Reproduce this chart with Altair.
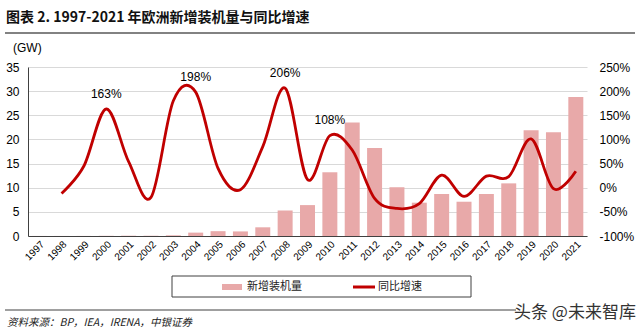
import altair as alt
import pandas as pd

years = [str(y) for y in range(1997, 2022)]
new_gw = [0.01, 0.01, 0.015, 0.04, 0.06, 0.05, 0.14, 0.7, 1.0, 0.95, 1.8, 5.3, 6.4,
          13.2, 23.5, 18.2, 10.1, 6.9, 8.7, 7.1, 8.7, 10.9, 21.9, 21.5, 28.8]
yoy_pct = [None, -12, 45, 163, 54, -20, 180, 198, 40, -4, 85, 206, 17,
           108, 78, -22, -43, -33, 26, -18, 24, 23, 101, -2, 34]
label_years = ["2000", "2004", "2008", "2010"]
label_values = [163, 198, 206, 108]

title_text = "图表 2. 1997-2021 年欧洲新增装机量与同比增速"
unit_text = "(GW)"
legend_bar = "新增装机量"
legend_line = "同比增速"
source_text = "资料来源：BP，IEA，IRENA，中银证券"
mark_text_ = "头条 @未来智库"

BAR = "#e8a9a9"
LINE = "#c00000"
NUMF = "Liberation Sans Narrow, Liberation Sans, Arial"
CJK = "Noto Sans CJK SC"

df = pd.DataFrame({"year": years, "gw": new_gw, "yoy": yoy_pct})
lab = pd.DataFrame({"year": label_years, "v": label_values})

xenc = alt.X("year:N", sort=years, title=None,
             scale=alt.Scale(paddingInner=0.33, paddingOuter=0.165),
             axis=alt.Axis(labelAngle=-45, labelFontSize=10, labelFont="Liberation Sans",
                           ticks=False, labelPadding=3, domainColor="#404040",
                           labelColor="#000", grid=False))

bars = alt.Chart(df).mark_bar(color=BAR).encode(
    x=xenc,
    y=alt.Y("gw:Q", title=None, scale=alt.Scale(domain=[0, 35], nice=False),
            axis=alt.Axis(orient="left", values=list(range(0, 36, 5)), ticks=False,
                          labelPadding=9, labelFont=NUMF, labelFontSize=12,
                          labelColor="#000", domainColor="#404040",
                          gridColor="#d9d9d9", grid=True)),
)

line = alt.Chart(df).mark_line(color=LINE, strokeWidth=2.8, interpolate="cardinal").encode(
    x=alt.X("year:N", sort=years),
    y=alt.Y("yoy:Q", title=None, scale=alt.Scale(domain=[-100, 250], nice=False),
            axis=alt.Axis(orient="right", values=list(range(-100, 251, 50)), ticks=False,
                          domain=False, grid=False, labelPadding=12, labelFont=NUMF,
                          labelFontSize=12, labelColor="#000",
                          labelExpr="datum.value + '%'")),
)

labels = alt.Chart(lab).transform_calculate(t="datum.v + '%'").mark_text(
    font=NUMF, fontSize=12, color="#000", dy=-15.5, baseline="middle").encode(
    x=alt.X("year:N", sort=years),
    y=alt.Y("v:Q", scale=alt.Scale(domain=[-100, 250], nice=False), axis=None),
    text="t:N",
)


def txt(s, x, y, **kw):
    return alt.Chart(pd.DataFrame({"t": [s]})).mark_text(**kw).encode(
        x=alt.value(x), y=alt.value(y), text="t:N")


def rule(x1, x2, y, color="#404040", w=1.0):
    return alt.Chart(pd.DataFrame({"a": [0]})).mark_rule(color=color, strokeWidth=w).encode(
        x=alt.value(x1), x2=alt.value(x2), y=alt.value(y))


title = txt(title_text, -22, -49, font=CJK, fontSize=14, fontWeight="bold",
            align="left", baseline="middle", color="#111")
title_rule = rule(-23, 607, -34, color="#595959", w=1.5)
unit = txt(unit_text, -15, -19, font="Liberation Sans", fontSize=12, align="left",
           baseline="middle", color="#000")

legend_box = alt.Chart(pd.DataFrame({"a": [0]})).mark_rect(
    fill="white", stroke="#404040", strokeWidth=1).encode(
    x=alt.value(144), x2=alt.value(443), y=alt.value(209), y2=alt.value(230))
legend_swatch = alt.Chart(pd.DataFrame({"a": [0]})).mark_rect(color=BAR).encode(
    x=alt.value(194), x2=alt.value(214), y=alt.value(217), y2=alt.value(223))
legend_t1 = txt(legend_bar, 219, 220, font=CJK, fontSize=11, align="left",
                baseline="middle", color="#222")
legend_ln = rule(325, 347, 220, color=LINE, w=3)
legend_t2 = txt(legend_line, 350, 220, font=CJK, fontSize=11, align="left",
                baseline="middle", color="#222")

bottom_rule = rule(-23, 488, 243, color="#404040", w=1)
source = txt(source_text, -21, 256, font=CJK, fontSize=10.5, fontStyle="italic",
             align="left", baseline="middle", color="#222")
wm = txt(mark_text_, 486, 246, font=CJK, fontSize=17, align="left",
         baseline="middle", color="#333")

chart = alt.layer(
    bars, line, labels,
    title, title_rule, unit,
    legend_box, legend_swatch, legend_t1, legend_ln, legend_t2,
    bottom_rule, source, wm,
).resolve_scale(y="independent").properties(
    width=559, height=169,
    autosize=alt.AutoSizeParams(type="none"),
    padding={"left": 28, "top": 67, "right": 53, "bottom": 92},
    background="white",
).configure_view(strokeWidth=0)

chart.save("out.html", embed_options={"renderer": "svg", "actions": False})
